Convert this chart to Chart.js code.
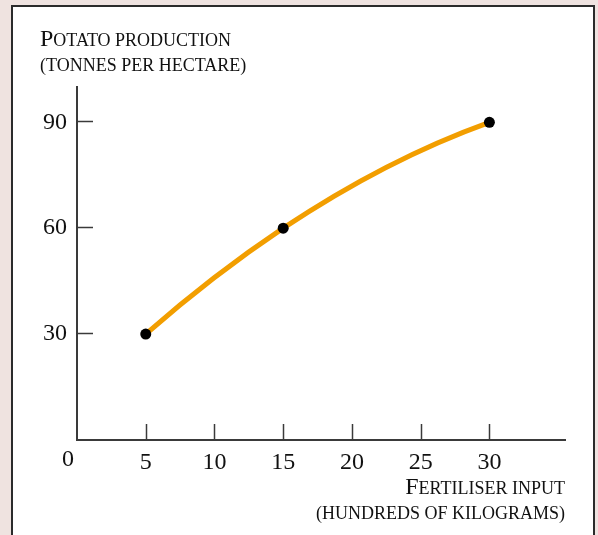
<!DOCTYPE html>
<html>
<head>
<meta charset="utf-8">
<script src="https://cdn.jsdelivr.net/npm/chart.js@4/dist/chart.umd.min.js"></script>
<style>
  html, body { margin: 0; padding: 0; background: #efe3e0; }
  #wrap { position: relative; width: 598px; height: 535px; }
</style>
</head>
<body>
<div id="wrap"><canvas id="myChart" width="598" height="535"></canvas></div>
<script>
// data
const fertiliser = [5, 15, 30];
const potatoes = [30, 60, 90];
const xTicks = [5, 10, 15, 20, 25, 30];
const yTicks = [30, 60, 90];

const serif = '"Liberation Serif", "Times New Roman", serif';
const axisColor = '#3a3a3a';

// small caps by hand: first letter big, rest small
function smallCaps(ctx, txt, x, y, big, small, align) {
    const first = txt[0];
    const rest = txt.slice(1).toUpperCase();
    ctx.font = big + 'px ' + serif;
    const w1 = ctx.measureText(first).width;
    ctx.font = small + 'px ' + serif;
    const w2 = ctx.measureText(rest).width;
    let x0 = align === 'right' ? x - w1 - w2 : x;
    ctx.textAlign = 'left';
    ctx.textBaseline = 'alphabetic';
    ctx.font = big + 'px ' + serif;
    ctx.fillText(first, x0, y);
    ctx.font = small + 'px ' + serif;
    ctx.fillText(rest, x0 + w1, y);
}

// slope of the parabola through the three points, at x
function slopeAt(x) {
    const [x0, x1, x2] = fertiliser;
    const [y0, y1, y2] = potatoes;
    return y0 * ((x - x1) + (x - x2)) / ((x0 - x1) * (x0 - x2))
         + y1 * ((x - x0) + (x - x2)) / ((x1 - x0) * (x1 - x2))
         + y2 * ((x - x0) + (x - x1)) / ((x2 - x0) * (x2 - x1));
}

// smooth concave curve instead of chart.js' kinked spline
const smooth = {
    id: 'smooth',
    beforeDatasetsDraw(chart) {
        const meta = chart.getDatasetMeta(0);
        const xs = chart.scales.x, ys = chart.scales.y;
        meta.dataset.updateControlPoints(chart.chartArea);
        const pts = meta.data;
        for (let i = 0; i < pts.length - 1; i++) {
            const xa = fertiliser[i], xb = fertiliser[i + 1];
            const ya = potatoes[i], yb = potatoes[i + 1];
            const d = (xb - xa) / 3;
            pts[i].cp2x = xs.getPixelForValue(xa + d);
            pts[i].cp2y = ys.getPixelForValue(ya + slopeAt(xa) * d);
            pts[i + 1].cp1x = xs.getPixelForValue(xb - d);
            pts[i + 1].cp1y = ys.getPixelForValue(yb - slopeAt(xb) * d);
        }
    }
};

const panel = {
    id: 'panel',
    beforeDraw(chart) {
        const c = chart.ctx;
        c.save();
        c.fillStyle = '#efe3e0';
        c.fillRect(0, 0, chart.width, chart.height);
        c.fillStyle = '#fff';
        c.fillRect(12, 6, 582, chart.height);
        c.strokeStyle = '#2b2b2b';
        c.lineWidth = 2;
        c.beginPath();
        c.moveTo(12, chart.height + 2);
        c.lineTo(12, 6);
        c.lineTo(594, 6);
        c.lineTo(594, chart.height + 2);
        c.stroke();
        c.restore();
    },
    afterDatasetsDraw(chart) {
        const c = chart.ctx;
        const xs = chart.scales.x, ys = chart.scales.y;
        const a = chart.chartArea;
        c.save();
        c.strokeStyle = axisColor;
        c.lineWidth = 1.5;
        // tick marks pointing inwards
        xTicks.forEach(v => {
            const px = Math.round(xs.getPixelForValue(v)) + 0.5;
            c.beginPath();
            c.moveTo(px, a.bottom);
            c.lineTo(px, a.bottom - 16);
            c.stroke();
        });
        yTicks.forEach(v => {
            const py = Math.round(ys.getPixelForValue(v)) - 0.5;
            c.beginPath();
            c.moveTo(a.left, py);
            c.lineTo(a.left + 16, py);
            c.stroke();
        });
        c.fillStyle = '#111';
        c.font = '24px ' + serif;
        c.textAlign = 'center';
        c.textBaseline = 'top';
        c.fillText('0', a.left - 9, a.bottom + 8);
        // axis titles
        smallCaps(c, 'Potato production', 40, 46, 24, 18, 'left');
        c.font = '18px ' + serif;
        c.textAlign = 'left';
        c.textBaseline = 'alphabetic';
        c.fillText('(TONNES PER HECTARE)', 40, 71);
        smallCaps(c, 'Fertiliser input', a.right, 494, 24, 18, 'right');
        c.font = '18px ' + serif;
        c.textAlign = 'right';
        c.fillText('(HUNDREDS OF KILOGRAMS)', a.right, 519);
        c.restore();
    }
};

const ctx = document.getElementById('myChart');

const myChart = new Chart(ctx, {
    type: 'line',
    data: {
        datasets: [{
            data: fertiliser.map((f, i) => ({ x: f, y: potatoes[i] })),
            borderColor: '#f29e00',
            borderWidth: 5,
            tension: 0.35,
            pointRadius: 5.5,
            pointBackgroundColor: '#000',
            pointBorderColor: '#000',
            pointBorderWidth: 0,
            clip: false
        }]
    },
    options: {
        responsive: false,
        animation: false,
        events: [],
        layout: { padding: { left: 0, top: 87, right: 33, bottom: 0 } },
        plugins: { legend: { display: false }, tooltip: { enabled: false } },
        scales: {
            x: {
                type: 'linear',
                min: 0,
                max: 35.5,
                afterBuildTicks: s => { s.ticks = xTicks.map(v => ({ value: v })); },
                afterFit: s => { s.height = 95; },
                grid: { display: false, drawTicks: false },
                border: { display: true, color: axisColor, width: 2 },
                ticks: {
                    color: '#111',
                    padding: 8,
                    maxRotation: 0,
                    font: { family: serif, size: 24 }
                }
            },
            y: {
                type: 'linear',
                min: 0,
                max: 100,
                afterBuildTicks: s => { s.ticks = yTicks.map(v => ({ value: v })); },
                afterFit: s => { s.width = 77; },
                grid: { display: false, drawTicks: false },
                border: { display: true, color: axisColor, width: 2 },
                ticks: {
                    color: '#111',
                    padding: 10,
                    font: { family: serif, size: 24 }
                }
            }
        }
    },
    plugins: [smooth, panel]
});
</script>
</body>
</html>
